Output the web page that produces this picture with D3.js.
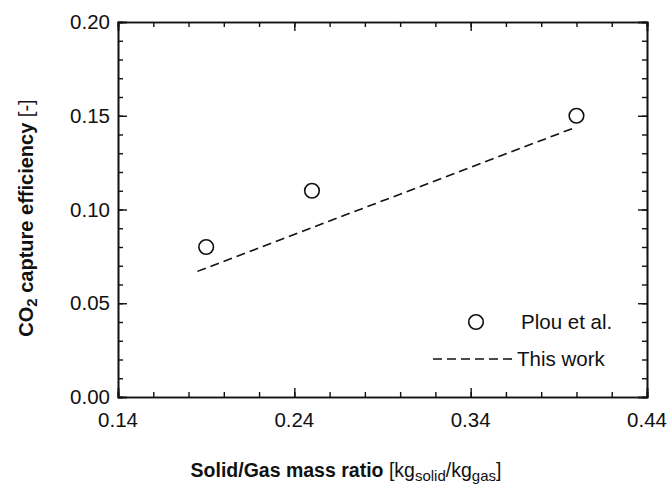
<!DOCTYPE html>
<html>
<head>
<meta charset="utf-8">
<script src="https://cdn.jsdelivr.net/npm/d3@7"></script>
<style>
    body { margin: 0; background: #fff; }
    text { font-family: "Liberation Sans", Arial, sans-serif; fill: #111; }
</style>
</head>
<body>
<svg id="chart" width="668" height="484"></svg>
<script>
// data
const plouRatio = [0.19, 0.25, 0.40];
const plouEff = [0.08, 0.11, 0.15];
const modelRatio = [0.185, 0.40];
const modelEff = [0.067, 0.144];
const xTicks = [0.14, 0.24, 0.34, 0.44];
const yTicks = [0.00, 0.05, 0.10, 0.15, 0.20];

const margin = {left: 118, right: 21, top: 22, bottom: 87};
const width = 668, height = 484;
const FONT = 20.5;

const svg = d3.select("#chart");

const x = d3.scaleLinear().domain([0.14, 0.44]).range([margin.left, width - margin.right]);
const y = d3.scaleLinear().domain([0, 0.2]).range([height - margin.bottom, margin.top]);

const minorX = d3.range(0.14, 0.4401, 0.02);
const minorY = d3.range(0, 0.2001, 0.01);

// axes: ticks point inward, minor ticks on all four sides
function drawAxes() {
    const g = svg.append("g").attr("class", "axes");

    g.append("g")
        .attr("transform", "translate(0," + y(0) + ")")
        .call(d3.axisTop(x).tickValues(minorX).tickSize(5).tickFormat(""));
    g.append("g")
        .attr("transform", "translate(0," + y(0) + ")")
        .call(d3.axisTop(x).tickValues(xTicks).tickSize(9).tickFormat(""));
    g.append("g")
        .attr("transform", "translate(0," + y(0.2) + ")")
        .call(d3.axisBottom(x).tickValues(minorX).tickSize(5).tickFormat(""));
    g.append("g")
        .attr("transform", "translate(0," + y(0.2) + ")")
        .call(d3.axisBottom(x).tickValues(xTicks).tickSize(9).tickFormat(""));

    g.append("g")
        .attr("transform", "translate(" + x(0.14) + ",0)")
        .call(d3.axisRight(y).tickValues(minorY).tickSize(5).tickFormat(""));
    g.append("g")
        .attr("transform", "translate(" + x(0.14) + ",0)")
        .call(d3.axisRight(y).tickValues(yTicks).tickSize(9).tickFormat(""));
    g.append("g")
        .attr("transform", "translate(" + x(0.44) + ",0)")
        .call(d3.axisLeft(y).tickValues(minorY).tickSize(5).tickFormat(""));
    g.append("g")
        .attr("transform", "translate(" + x(0.44) + ",0)")
        .call(d3.axisLeft(y).tickValues(yTicks).tickSize(9).tickFormat(""));

    g.selectAll(".domain").attr("stroke", "#111").attr("stroke-width", 1.6);
    g.selectAll(".tick line").attr("stroke", "#111").attr("stroke-width", 1.4);

    // tick labels
    svg.append("g").selectAll("text")
        .data(xTicks)
        .join("text")
        .attr("x", d => x(d))
        .attr("y", y(0) + 30)
        .attr("text-anchor", "middle")
        .attr("font-size", FONT)
        .text(d => d.toFixed(2));

    svg.append("g").selectAll("text")
        .data(yTicks)
        .join("text")
        .attr("x", x(0.14) - 8)
        .attr("y", d => y(d) + 7)
        .attr("text-anchor", "end")
        .attr("font-size", FONT)
        .text(d => d.toFixed(2));
}

function drawLabels() {
    const xl = svg.append("text")
        .attr("x", 346)
        .attr("y", 477)
        .attr("text-anchor", "middle")
        .attr("font-size", 19.5);
    xl.append("tspan").attr("font-weight", "bold").text("Solid/Gas mass ratio ");
    xl.append("tspan").text("[kg");
    xl.append("tspan").attr("font-size", 15).attr("dy", 4).text("solid");
    xl.append("tspan").attr("dy", -4).text("/kg");
    xl.append("tspan").attr("font-size", 15).attr("dy", 4).text("gas");
    xl.append("tspan").attr("dy", -4).text("]");

    const yl = svg.append("text")
        .attr("transform", "translate(33,218) rotate(-90)")
        .attr("text-anchor", "middle")
        .attr("font-size", 20);
    yl.append("tspan").attr("font-weight", "bold").text("CO");
    yl.append("tspan").attr("font-weight", "bold").attr("font-size", 15).attr("dy", 4).text("2");
    yl.append("tspan").attr("font-weight", "bold").attr("dy", -4).text(" capture efficiency ");
    yl.append("tspan").text("[-]");
}

function drawData() {
    const line = d3.line().x(d => x(d[0])).y(d => y(d[1]));
    svg.append("path")
        .datum(d3.zip(modelRatio, modelEff))
        .attr("d", line)
        .attr("fill", "none")
        .attr("stroke", "#111")
        .attr("stroke-width", 1.6)
        .attr("stroke-dasharray", "9,5");

    svg.append("g").selectAll("circle")
        .data(d3.zip(plouRatio, plouEff))
        .join("circle")
        .attr("cx", d => x(d[0]))
        .attr("cy", d => y(d[1]))
        .attr("r", 7.3)
        .attr("fill", "none")
        .attr("stroke", "#111")
        .attr("stroke-width", 1.6);
}

function drawLegend() {
    const g = svg.append("g");
    g.append("circle")
        .attr("cx", 476).attr("cy", 322).attr("r", 7.3)
        .attr("fill", "none").attr("stroke", "#111").attr("stroke-width", 1.6);
    g.append("text").attr("x", 521).attr("y", 329).attr("font-size", FONT).text("Plou et al.");
    g.append("line")
        .attr("x1", 433).attr("x2", 516).attr("y1", 359).attr("y2", 359)
        .attr("stroke", "#111").attr("stroke-width", 1.6).attr("stroke-dasharray", "9,5");
    g.append("text").attr("x", 517).attr("y", 366).attr("font-size", FONT).text("This work");
}

drawAxes();
drawData();
drawLegend();
drawLabels();
</script>
</body>
</html>
